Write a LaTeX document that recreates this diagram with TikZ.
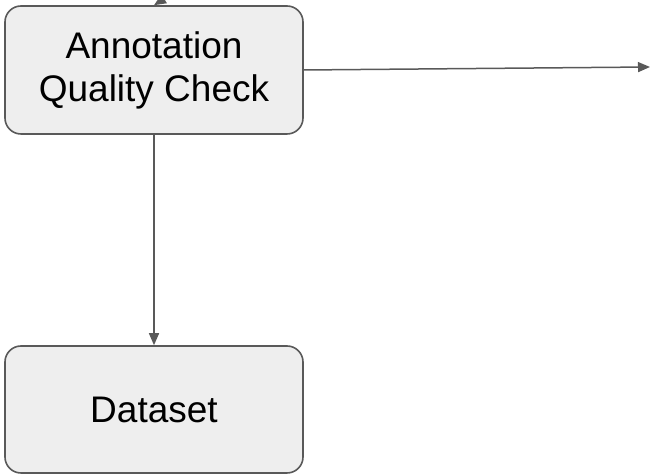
\documentclass[tikz,border=0pt]{standalone}
\usepackage{fontspec}
\setmainfont{Liberation Sans}
\usetikzlibrary{arrows.meta,positioning}
\definecolor{ink}{HTML}{000000}
\definecolor{edge}{HTML}{595959}
\definecolor{boxf}{HTML}{EEEEEE}
\tikzset{
  stage/.style={draw=edge,fill=boxf,line width=0.8pt,rounded corners=8pt,minimum width=149pt,minimum height=64pt,align=center,inner sep=2pt,font=\fontsize{18.5}{21.5}\selectfont,text=ink},
  flow/.style={-{Triangle[length=6pt,width=5pt]},line width=0.75pt,edge}
}

\begin{document}
\begin{tikzpicture}[x=0.5pt,y=0.5pt]
\useasboundingbox (0,0) rectangle (654,476);
% boxes
\node[stage] (qc)      at (154,406)  {Annotation\\Quality Check};
\node[stage,minimum height=63.5pt] (dataset) at (154,66.5) {Dataset};
% loose ends
\coordinate (from) at (188,492);
\coordinate (out)  at (650,409);
% arrows
\draw[flow] (from) -- (qc.north);
\draw[flow] (qc.east) -- (out);
\draw[flow] (qc) -- (dataset);
\end{tikzpicture}
\end{document}
